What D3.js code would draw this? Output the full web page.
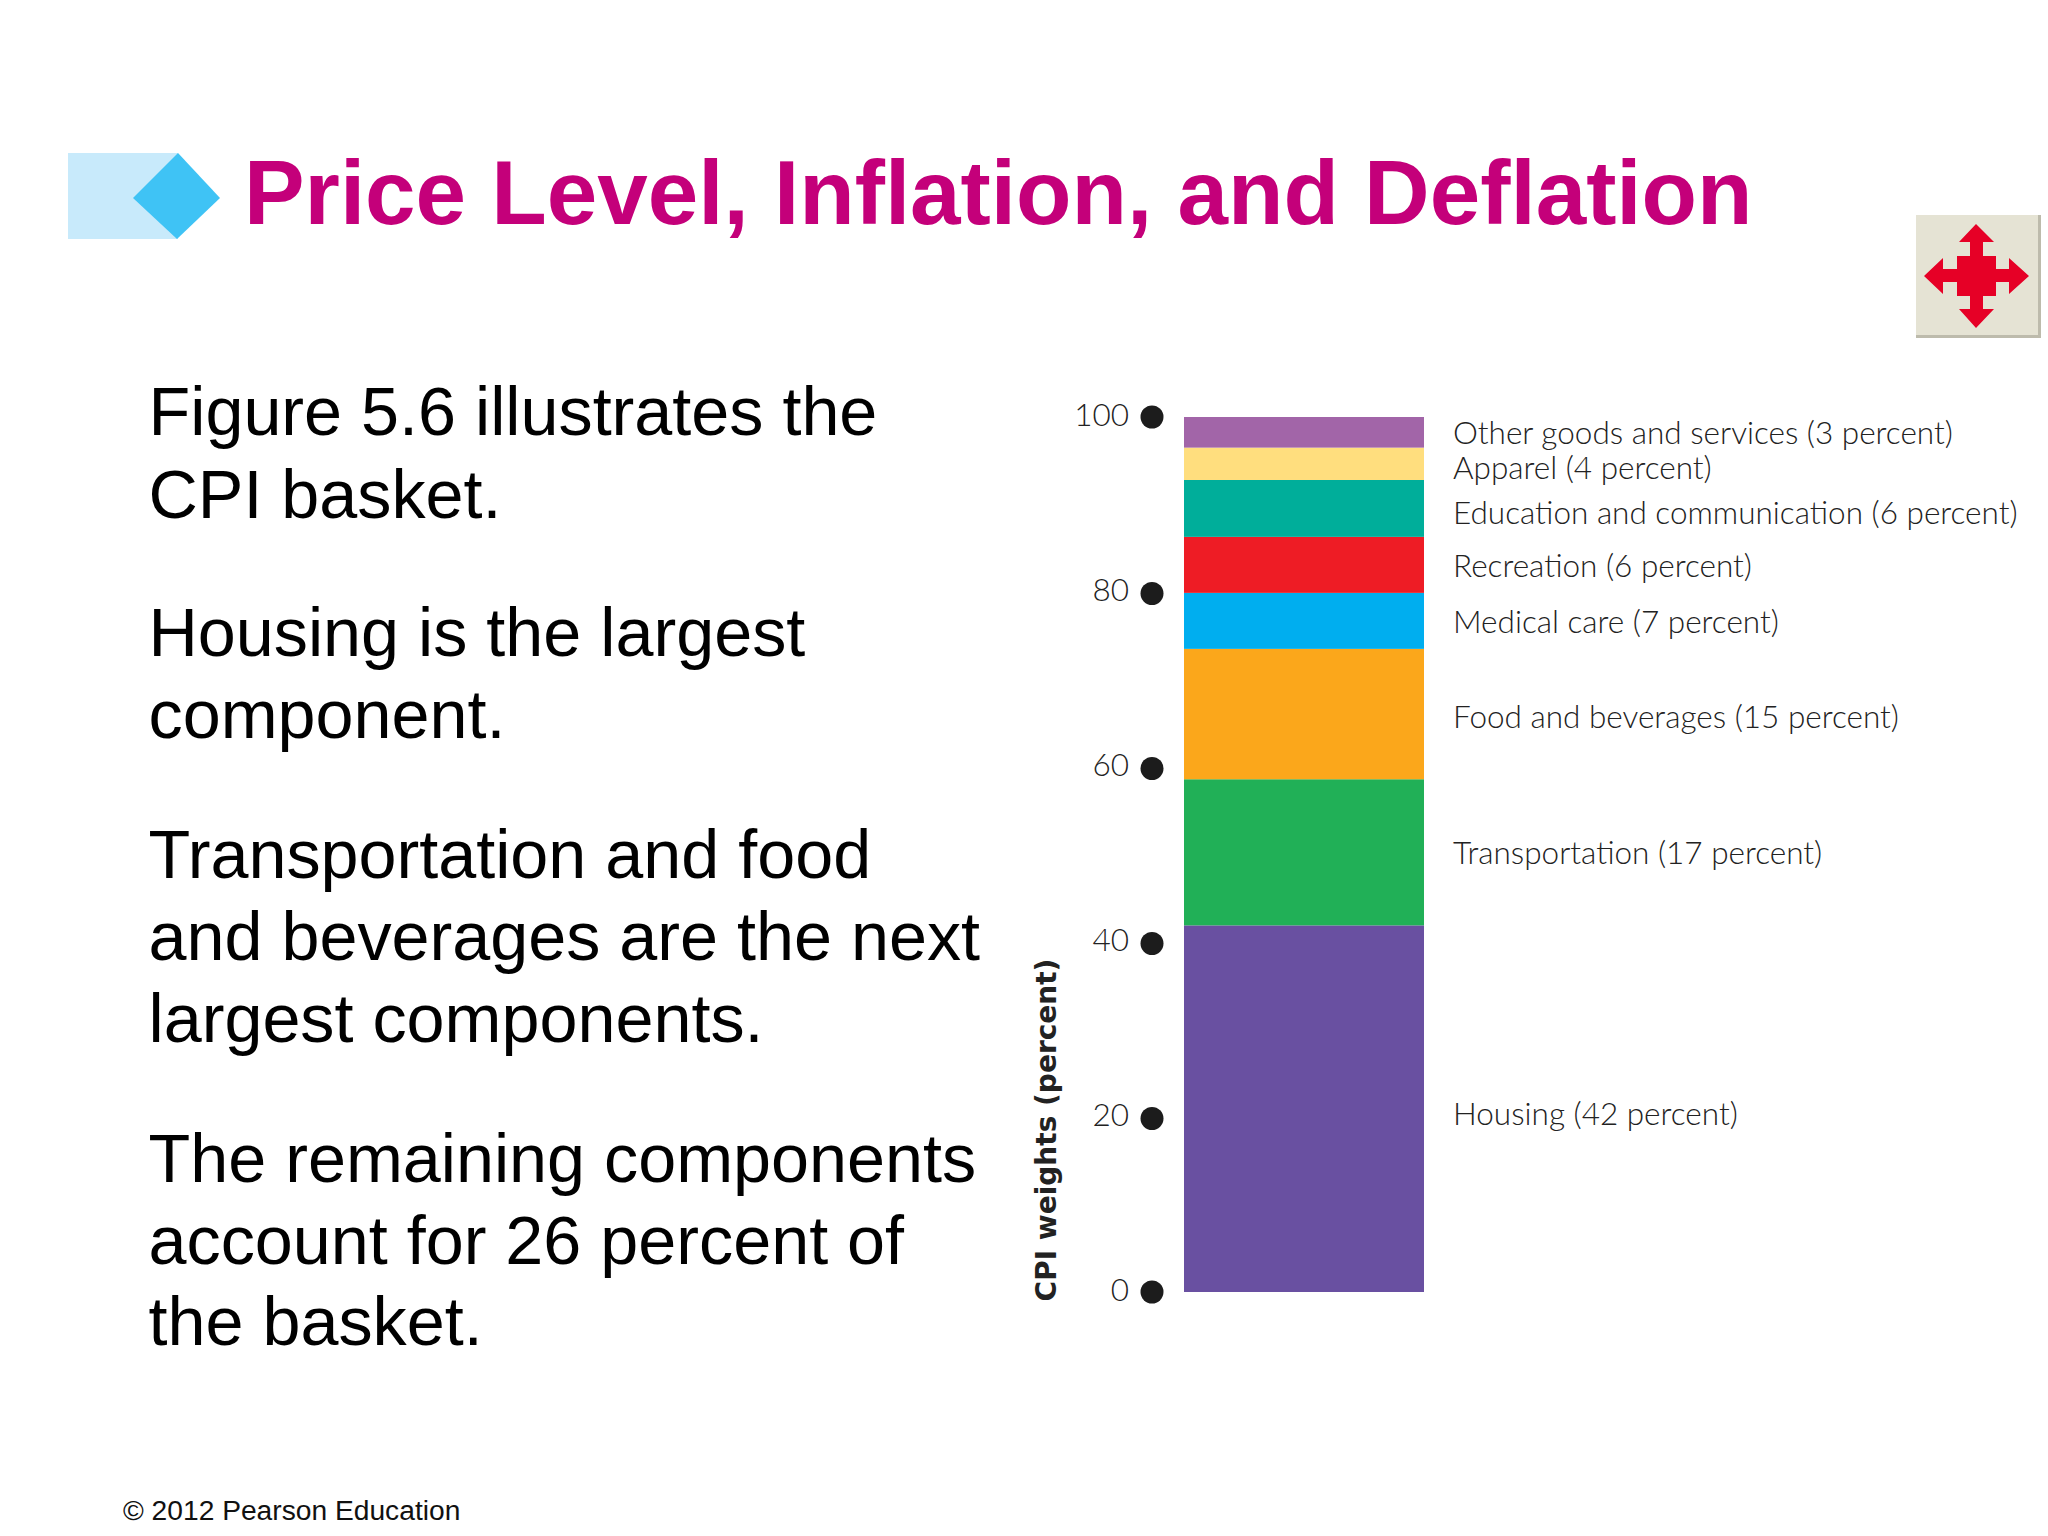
<!DOCTYPE html>
<html>
<head>
<meta charset="utf-8">
<script src="https://cdn.jsdelivr.net/npm/d3@7"></script>
<style>
html, body { margin: 0; padding: 0; background: #fff; }
svg { display: block; }
</style>
</head>
<body>
<script>
var titleText = 'Price Level, Inflation, and Deflation';
var bodyLines = [
    'Figure 5.6 illustrates the',
    'CPI basket.',
    'Housing is the largest',
    'component.',
    'Transportation and food',
    'and beverages are the next',
    'largest components.',
    'The remaining components',
    'account for 26 percent of',
    'the basket.'
];

// bottom to top, heights as measured on the bar
var components = ['Housing', 'Transportation', 'Food and beverages', 'Medical care', 'Recreation', 'Education and communication', 'Apparel', 'Other goods and services'];
var barHeights = [41.9, 16.7, 14.9, 6.4, 6.4, 6.5, 3.7, 3.5];
var statedWeights = [42, 17, 15, 7, 6, 6, 4, 3];
var colors = ['#6950A1', '#21B057', '#FBA71B', '#00AEEF', '#EE1C25', '#00AE9A', '#FFDE7E', '#A265A8'];
var yTicks = [0, 20, 40, 60, 80, 100];

var bodyBaselines = [435, 518, 656, 738, 878, 960, 1042, 1182, 1264, 1345];
var labelNudge = [16, 12, 14, 12, 12, 16, 15, 12];
var chartFont = 'Lato';

var svg = d3.select('body').append('svg').attr('width', 2048).attr('height', 1536);

// title bullet
svg.append('rect').attr('x', 68).attr('y', 153).attr('width', 110).attr('height', 86).attr('fill', '#C8EAFB');
svg.append('path').attr('d', 'M133,198L178,153L220,198L177,239Z').attr('fill', '#3FC3F5');

svg.append('text')
    .attr('x', 244).attr('y', 224)
    .attr('font-family', '"Liberation Sans"').attr('font-weight', 700).attr('font-size', 90.8)
    .attr('fill', '#C4007A')
    .text(titleText);

// move button
svg.append('rect').attr('x', 1916).attr('y', 215).attr('width', 125).attr('height', 123).attr('fill', '#BDBBAC');
svg.append('rect').attr('x', 1916).attr('y', 215).attr('width', 122).attr('height', 120).attr('fill', '#E5E3D4');
svg.append('path')
    .attr('d', 'M1976,224L1994,242H1983V256H1996V269H2009V258L2029,276L2009,294V282H1996V296H1983V309H1994L1976,328L1959,309H1970V296H1957V282H1943V294L1924,276L1943,258V269H1957V256H1970V242H1959Z')
    .attr('fill', '#E60026');

svg.selectAll('text.body')
    .data(bodyLines)
    .join('text')
    .attr('class', 'body')
    .attr('x', 148.5)
    .attr('y', function(d, i) { return bodyBaselines[i]; })
    .attr('font-family', '"Liberation Sans"').attr('font-size', 68.3)
    .attr('fill', '#000')
    .text(function(d) { return d; });

svg.append('text')
    .attr('x', 123).attr('y', 1520)
    .attr('font-family', '"Liberation Sans"').attr('font-size', 28.2)
    .attr('fill', '#111')
    .text('\u00A9 2012 Pearson Education');

// chart
var y = d3.scaleLinear().domain([0, 100]).range([1292, 417]);
var x = d3.scaleBand().domain(['CPI basket']).range([1184, 1424]);

var row = {};
components.forEach(function(c, i) { row[c] = barHeights[i]; });
var layers = d3.stack().keys(components)([row]);

svg.append('g').selectAll('rect')
    .data(layers)
    .join('rect')
    .attr('x', x('CPI basket'))
    .attr('width', x.bandwidth())
    .attr('y', function(d) { return y(d[0][1]); })
    .attr('height', function(d) { return y(d[0][0]) - y(d[0][1]); })
    .attr('fill', function(d, i) { return colors[i]; });

var axis = svg.append('g')
    .attr('transform', 'translate(1129,-2)')
    .call(d3.axisLeft(y).tickValues(yTicks).tickSize(0).tickPadding(0));
axis.select('.domain').remove();
axis.selectAll('text')
    .attr('font-family', chartFont).attr('font-weight', 300).attr('font-size', 31.5)
    .attr('fill', '#222');

svg.append('g').selectAll('circle')
    .data(yTicks)
    .join('circle')
    .attr('cx', 1152)
    .attr('cy', function(d) { return y(d) + (d > 0 && d < 100 ? 1.5 : 0); })
    .attr('r', 11.5)
    .attr('fill', '#1c1c1c');

svg.append('text')
    .attr('transform', 'translate(1056,1130) rotate(-90)')
    .attr('text-anchor', 'middle')
    .attr('font-family', '"DejaVu Sans"').attr('font-weight', 700).attr('font-size', 28)
    .attr('fill', '#222')
    .text('CPI weights (percent)');

svg.append('g').selectAll('text')
    .data(layers)
    .join('text')
    .attr('x', 1453)
    .attr('y', function(d, i) { return y((d[0][0] + d[0][1]) / 2) + labelNudge[i]; })
    .attr('font-family', chartFont).attr('font-weight', 300).attr('font-size', 31.5)
    .attr('fill', '#222')
    .text(function(d, i) { return components[i] + ' (' + statedWeights[i] + ' percent)'; });
</script>
</body>
</html>
